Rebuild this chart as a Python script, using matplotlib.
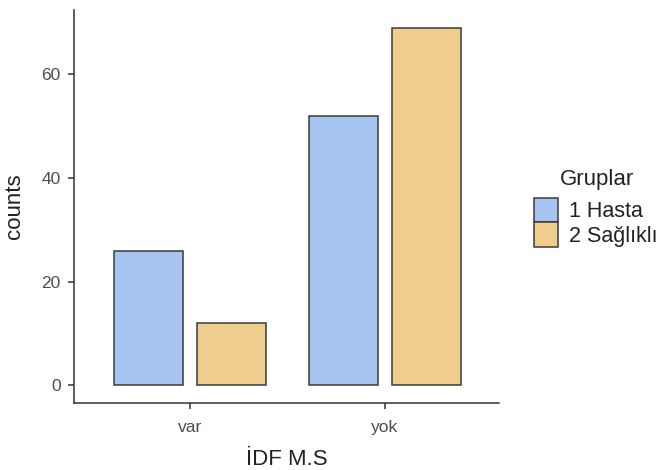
import matplotlib
matplotlib.use("Agg")
import matplotlib.pyplot as plt
import numpy as np
from matplotlib.patches import Patch

categories = ["var", "yok"]
groups = ["1 Hasta", "2 Sağlıklı"]
hasta = [26, 52]
saglikli = [12, 69]
colors = ["#A6C4F0", "#EFCD8C"]

plt.rcParams['font.family'] = ['Liberation Sans', 'DejaVu Sans']

fig = plt.figure(figsize=(6.6, 4.7), dpi=100)
ax = fig.add_axes([74/660, 1-403/470, (499-74)/660, (403-10)/470])

x = np.arange(len(categories))
w = 0.35
off = 0.213
for vals, col, dx in [(hasta, colors[0], -off), (saglikli, colors[1], off)]:
    ax.bar(x + dx, vals, width=w, color=col, edgecolor="#3a3a3a", linewidth=1.1, zorder=2)

ax.set_xlim(-0.595, 1.585)
ax.set_ylim(-3.45, 72.45)
ax.set_xticks(x)
ax.set_xticklabels(categories)
ax.set_yticks([0, 20, 40, 60])
for s in ["top", "right"]:
    ax.spines[s].set_visible(False)
for s in ["left", "bottom"]:
    ax.spines[s].set_color("#333333")
    ax.spines[s].set_linewidth(1.1)
ax.tick_params(axis="both", colors="#333333", labelcolor="#4D4D4D", labelsize=12.5,
               length=4, width=1.1)
ax.tick_params(axis="x", pad=8.5)
ax.tick_params(axis="y", pad=5.5)
ax.set_xlabel("İDF M.S", fontsize=16, color="#222222", labelpad=10)
ax.set_ylabel("counts", fontsize=16, color="#222222", labelpad=12)

fig.text(597/660, 1-185/470, "Gruplar", fontsize=16, color="#222222",
         ha="center", va="baseline")
handles = [Patch(facecolor=colors[i], edgecolor="#3a3a3a", linewidth=1.1) for i in range(2)]
leg = fig.legend(handles, groups, loc="upper left",
                 bbox_to_anchor=(534/660, 1-198/470), frameon=False,
                 fontsize=15.5, handlelength=1.12, handleheight=1.36,
                 handletextpad=0.52, labelspacing=0.0, borderaxespad=0, borderpad=0)
for t in leg.get_texts():
    t.set_color("#222222")

fig.savefig("out.png", dpi=100)
